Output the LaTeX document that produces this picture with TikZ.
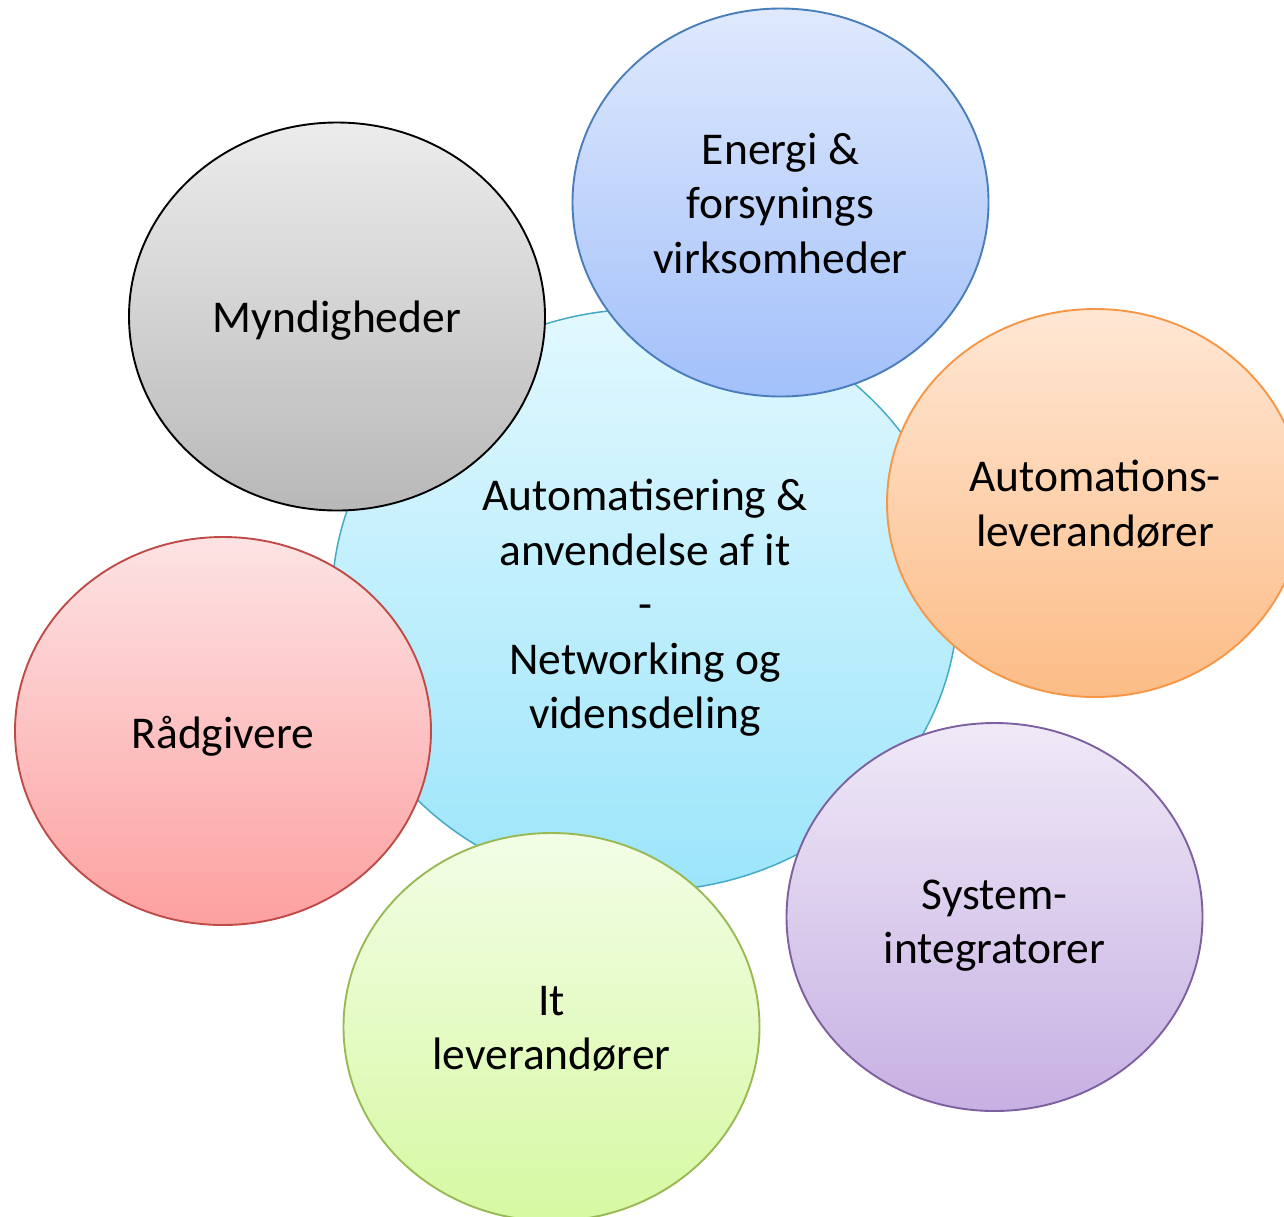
\documentclass[tikz,border=0pt]{standalone}
\usepackage{fontspec}
\setmainfont{Carlito}
\usetikzlibrary{shapes.geometric}
\definecolor{cyanT}{HTML}{E2F8FE}
\definecolor{cyanBo}{HTML}{9CE5FB}
\definecolor{cyanL}{HTML}{46AAC5}
\definecolor{grayT}{HTML}{ECECEC}
\definecolor{grayBo}{HTML}{B8B8B8}
\definecolor{blueT}{HTML}{DFE9FD}
\definecolor{blueBo}{HTML}{A2C0FA}
\definecolor{blueL}{HTML}{4A7EBB}
\definecolor{orT}{HTML}{FFE7D4}
\definecolor{orBo}{HTML}{FCBC86}
\definecolor{orL}{HTML}{F79646}
\definecolor{puT}{HTML}{EFE9F7}
\definecolor{puBo}{HTML}{C7B0E3}
\definecolor{puL}{HTML}{7D60A0}
\definecolor{grT}{HTML}{F3FDE6}
\definecolor{grBo}{HTML}{D6F9A2}
\definecolor{grL}{HTML}{98B954}
\definecolor{reT}{HTML}{FDE3E4}
\definecolor{reBo}{HTML}{FDA0A0}
\definecolor{reL}{HTML}{BE4B48}
\begin{document}
\begin{tikzpicture}[x=1pt,y=-1pt,
  bubble/.style={ellipse, inner sep=0pt, minimum width=416pt, minimum height=388pt,
    line width=1.9pt},
  hubstyle/.style={bubble, minimum width=626pt, minimum height=582pt, line width=1.5pt,
    draw=cyanL, top color=cyanT, bottom color=cyanBo},
  lbl/.style={align=center, text=black, inner sep=0pt, font=\fontsize{45.5}{54.5}\selectfont}
]
\useasboundingbox (0,0) rectangle (1284,1216);
\clip (0,0) rectangle (1284,1216);
\node[hubstyle] (hub) at (645,600) {};
\node[lbl, yshift=-8pt] (hubt) at (hub.center) {Automatisering \&\\anvendelse af it\\-\\Networking og\\vidensdeling};
\node[bubble, draw=black, top color=grayT, bottom color=grayBo] (myn) at (337,316.5) {};
\node[lbl, yshift=-4pt] (mynt) at (myn.center) {Myndigheder};
\node[bubble, draw=blueL, top color=blueT, bottom color=blueBo] (ene) at (780.5,202.5) {};
\node[lbl, yshift=-1pt] (enet) at (ene.center) {Energi \&\\forsynings\\virksomheder};
\node[bubble, draw=orL, top color=orT, bottom color=orBo] (aut) at (1095,503) {};
\node[lbl, yshift=-1pt] (autt) at (aut.center) {Automations-\\leverandører};
\node[bubble, draw=puL, top color=puT, bottom color=puBo] (sys) at (994.5,917) {};
\node[lbl, yshift=-8.5pt] (syst) at (sys.center) {System-\\integratorer};
\node[bubble, draw=grL, top color=grT, bottom color=grBo] (itl) at (551.5,1027) {};
\node[lbl, yshift=-1.5pt] (itlt) at (itl.center) {It\\leverandører};
\node[bubble, draw=reL, top color=reT, bottom color=reBo] (rad) at (223,731) {};
\node[lbl, yshift=-5pt] (radt) at (rad.center) {Rådgivere};
\end{tikzpicture}
\end{document}
